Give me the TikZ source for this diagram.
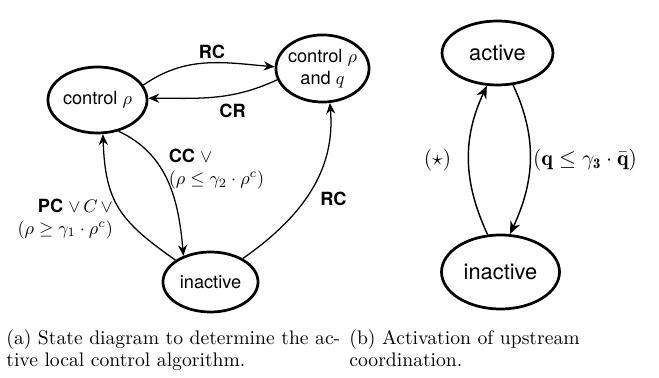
\documentclass[tikz,border=0pt]{standalone}
\usepackage{fontspec}
\setsansfont{TeX Gyre Heros}
\usetikzlibrary{positioning, shapes.geometric, arrows.meta}

\begin{document}
\begin{tikzpicture}[x=0.55pt, y=0.55pt,
    statenode/.style={draw, ellipse, line width=1.5pt, inner sep=0pt, font=\sffamily},
    trans/.style={-{Stealth[length=6pt, width=5pt]}, line width=0.7pt},
    cond/.style={font=\sffamily, align=left, inner sep=1pt},
    subcap/.style={anchor=north west, align=left, inner sep=0pt,
                   font=\fontsize{10.8}{12.3}\selectfont}]
  \useasboundingbox (0,0) rectangle (659,-378);

  % (a) local control states
  \node[statenode, minimum width=54.5pt, minimum height=36.3pt] (ctrl) at (97.5,-100) {control $\rho$};
  \node[statenode, minimum width=51.2pt, minimum height=36.9pt, inner xsep=-3pt,
        align=center] (ctrlq) at (322.5,-68.5) {control $\rho$\\and $q$};
  \node[statenode, minimum width=52.3pt, minimum height=33pt] (inact) at (210.5,-282) {inactive};

  \draw[trans] (ctrl.18) to[out=35, in=175]
      node[cond, pos=0.55, above=1pt] {\textbf{RC}} (ctrlq.178);
  \draw[trans] (ctrlq.194) to[out=205, in=0]
      node[cond, pos=0.35, below=4pt] {\textbf{CR}} (ctrl.2);
  \draw[trans] (ctrl.-56) to[out=-25, in=95]
      node[cond, pos=0.3, right, xshift=7pt, yshift=-6pt] {\textbf{CC} $\vee$\\$(\rho \leq \gamma_2 \cdot \rho^c)$} (inact.136);
  \draw[trans] (inact.148) to[out=145, in=-88, looseness=1.2]
      node[cond, pos=0.45, left, align=right, xshift=-4pt, yshift=-3pt] {\textbf{PC} $\vee\, C \,\vee$\\$(\rho \geq \gamma_1 \cdot \rho^c)$} (ctrl.-81);
  \draw[trans] (inact.36) to[out=35, in=-85]
      node[cond, pos=0.45, right=7pt] {\textbf{RC}} (ctrlq.-78);

  % (b) upstream coordination
  \begin{scope}[font=\large, trans/.append style={-{Stealth[length=7pt, width=5.8pt]}, line width=0.8pt}]
    \node[statenode, font=\sffamily\large, minimum width=61pt, minimum height=35.2pt] (act) at (497.5,-53) {active};
    \node[statenode, font=\sffamily\large, minimum width=64.9pt, minimum height=40.7pt] (inactb) at (500.5,-272) {inactive};

    \draw[trans] (inactb.109) to[out=115, in=245]
        node[left=6pt] {$(\star)$} (act.252);
    \draw[trans] (act.-64) to[out=-65, in=65]
        node[right=-2pt] {$(\mathbf{q} \leq \gamma_{\mathbf{3}} \cdot \bar{\mathbf{q}})$} (inactb.76);
  \end{scope}

  % subcaptions
  \node[subcap] (capa) at (6,-329)
      {(a) State diagram to determine the ac-\\tive local control algorithm.};
  \node[subcap] (capb) at (349,-329)
      {(b) Activation of upstream\\coordination.};
\end{tikzpicture}
\end{document}
